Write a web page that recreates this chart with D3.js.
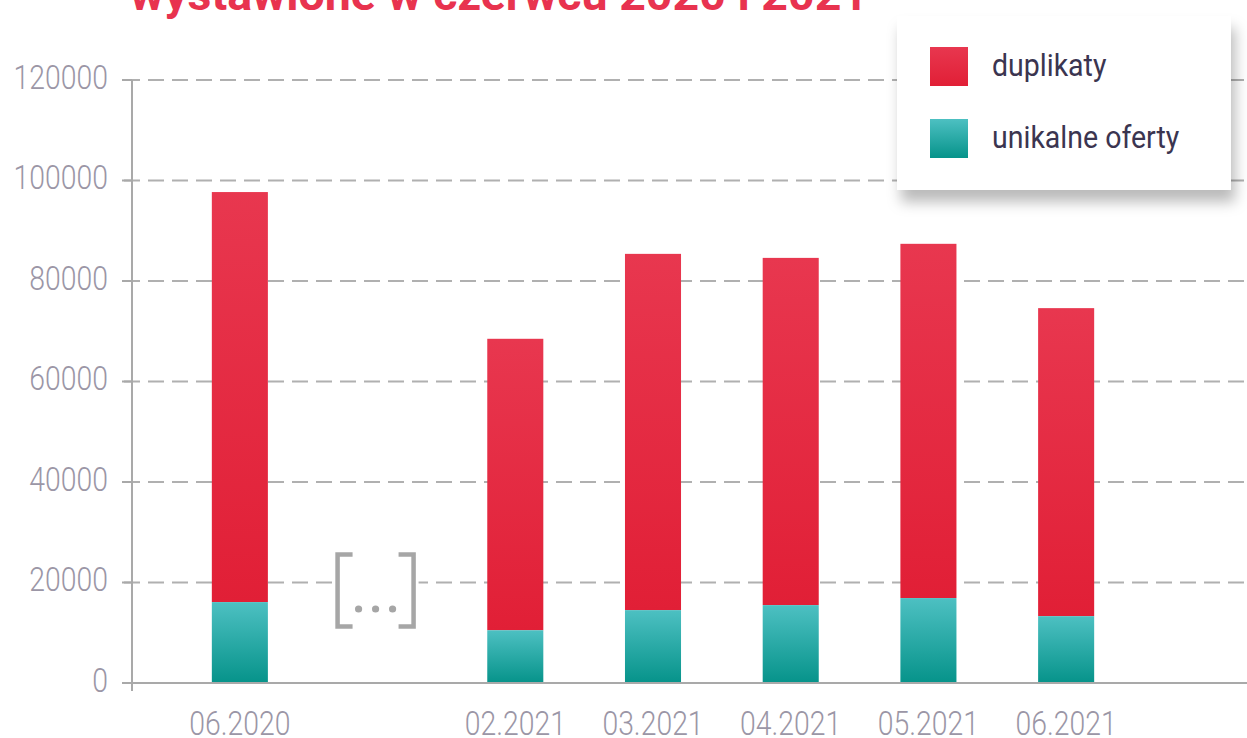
<!DOCTYPE html>
<html>
<head>
<meta charset="utf-8">
<script src="https://cdn.jsdelivr.net/npm/d3@7"></script>
<style>
  html, body { margin: 0; padding: 0; background: #fff; }
  svg { display: block; }
</style>
</head>
<body>
<svg id="chart" width="1247" height="738"></svg>
<script>
// ---- data ----
const title = "wystawione w czerwcu 2020 i 2021";
const categories = ["06.2020", "", "02.2021", "03.2021", "04.2021", "05.2021", "06.2021"];
const unikalne  = [16100, null, 10500, 14500, 15500, 16900, 13300];
const duplikaty = [81600, null, 58000, 70900, 69100, 70500, 61300];
const yTicks = [0, 20000, 40000, 60000, 80000, 100000, 120000];
const seriesNames = ["duplikaty", "unikalne oferty"];

// ---- setup ----
const W = 1247, H = 738;
const svg = d3.select("#chart");
const defs = svg.append("defs");

function grad(id, top, bottom) {
  const g = defs.append("linearGradient").attr("id", id)
    .attr("x1", 0).attr("y1", 0).attr("x2", 0).attr("y2", 1);
  g.append("stop").attr("offset", "0%").attr("stop-color", top);
  g.append("stop").attr("offset", "100%").attr("stop-color", bottom);
}
grad("gRed", "#e8374f", "#e11f36");
grad("gTeal", "#4dc0c2", "#06938a");

const f = defs.append("filter").attr("id", "shadow")
  .attr("x", "-20%").attr("y", "-20%").attr("width", "150%").attr("height", "160%");
f.append("feDropShadow").attr("dx", 4).attr("dy", 12).attr("stdDeviation", 7)
  .attr("flood-color", "#000").attr("flood-opacity", 0.27);

const y = d3.scaleLinear().domain([0, 120000]).range([683, 80]);
const x = d3.scaleBand().domain(categories.map((c, i) => i))
  .range([171, 1135]).paddingInner(0.593).paddingOuter(0.2965);

const axisColor = "#a9a9a9";
const labelColor = "#9b96a6";
const SX = 0.86;

// ---- title ----
svg.append("text")
  .attr("x", 130).attr("y", 10)
  .attr("textLength", 738).attr("lengthAdjust", "spacingAndGlyphs")
  .attr("font-family", "Roboto, 'Noto Sans', sans-serif")
  .attr("font-weight", 700).attr("font-size", 44)
  .attr("fill", "#e8334f")
  .text(title);

// ---- gridlines ----
svg.append("g").selectAll("line.grid")
  .data(yTicks.filter(d => d > 0))
  .join("line")
  .attr("x1", 124).attr("x2", W)
  .attr("y1", d => y(d)).attr("y2", d => y(d))
  .attr("stroke", "#b0b0b0").attr("stroke-width", 2)
  .attr("stroke-dasharray", "16,8");

// ticks
svg.append("g").selectAll("line.tick")
  .data(yTicks)
  .join("line")
  .attr("x1", 122).attr("x2", 132)
  .attr("y1", d => y(d)).attr("y2", d => y(d))
  .attr("stroke", axisColor).attr("stroke-width", 2);

// y labels
svg.append("g").selectAll("text")
  .data(yTicks)
  .join("text")
  .attr("transform", d => `translate(108,${y(d) + 8.5}) scale(${SX},1)`)
  .attr("text-anchor", "end")
  .attr("font-family", "Roboto, sans-serif")
  .attr("font-weight", 300).attr("font-size", 33)
  .attr("fill", labelColor)
  .text(d => d);

// ---- gap marker "[...]" ----
const gi = categories.indexOf("");
const cx = x(gi) + x.bandwidth() / 2 - 2;
const gy = y(20000);
const gm = svg.append("g").attr("stroke", "#a6a6a6").attr("fill", "none");
gm.append("rect").attr("x", cx - 43).attr("y", gy - 4).attr("width", 86).attr("height", 8)
  .attr("fill", "#fff").attr("stroke", "none");
gm.append("path")
  .attr("d", `M${cx - 23},${gy - 28} H${cx - 38} V${gy + 44} H${cx - 23}`)
  .attr("stroke-width", 4.5);
gm.append("path")
  .attr("d", `M${cx + 23},${gy - 28} H${cx + 38} V${gy + 44} H${cx + 23}`)
  .attr("stroke-width", 4.5);
gm.selectAll("circle").data([-17, 0, 17]).join("circle")
  .attr("cx", d => cx + d).attr("cy", gy + 26.5).attr("r", 3.6)
  .attr("fill", "#a6a6a6").attr("stroke", "none");

// ---- bars ----
const bars = svg.append("g");
categories.forEach((c, i) => {
  if (unikalne[i] == null) return;
  const u = unikalne[i], d = duplikaty[i];
  bars.append("rect")
    .attr("x", x(i)).attr("width", x.bandwidth())
    .attr("y", y(u + d)).attr("height", y(u) - y(u + d))
    .attr("fill", "url(#gRed)");
  bars.append("rect")
    .attr("x", x(i)).attr("width", x.bandwidth())
    .attr("y", y(u)).attr("height", y(0) - y(u))
    .attr("fill", "url(#gTeal)");
});

// ---- axes lines ----
svg.append("line").attr("x1", 122).attr("x2", W).attr("y1", y(0)).attr("y2", y(0))
  .attr("stroke", axisColor).attr("stroke-width", 2);
svg.append("line").attr("x1", 132).attr("x2", 132).attr("y1", y(120000)).attr("y2", y(0) + 8)
  .attr("stroke", axisColor).attr("stroke-width", 2);

// x labels
svg.append("g").selectAll("text")
  .data(categories.map((c, i) => ({ c, i })).filter(d => d.c !== ""))
  .join("text")
  .attr("transform", d => `translate(${x(d.i) + x.bandwidth() / 2},735) scale(${SX},1)`)
  .attr("text-anchor", "middle")
  .attr("font-family", "Roboto, sans-serif")
  .attr("font-weight", 300).attr("font-size", 33)
  .attr("fill", labelColor)
  .text(d => d.c);

// ---- legend ----
const lg = svg.append("g");
lg.append("rect").attr("x", 897).attr("y", 16).attr("width", 334).attr("height", 174)
  .attr("fill", "#fff").attr("filter", "url(#shadow)");
const legendFills = ["url(#gRed)", "url(#gTeal)"];
const legendY = [47, 119];
seriesNames.forEach((s, i) => {
  lg.append("rect").attr("x", 930).attr("y", legendY[i]).attr("width", 38).attr("height", 39)
    .attr("fill", legendFills[i]);
  lg.append("text")
    .attr("transform", `translate(992,${legendY[i] + 28.5}) scale(0.92,1)`)
    .attr("font-family", "Roboto, sans-serif")
    .attr("font-weight", 400).attr("font-size", 31)
    .attr("fill", "#3b3550")
    .text(s);
});
</script>
</body>
</html>
